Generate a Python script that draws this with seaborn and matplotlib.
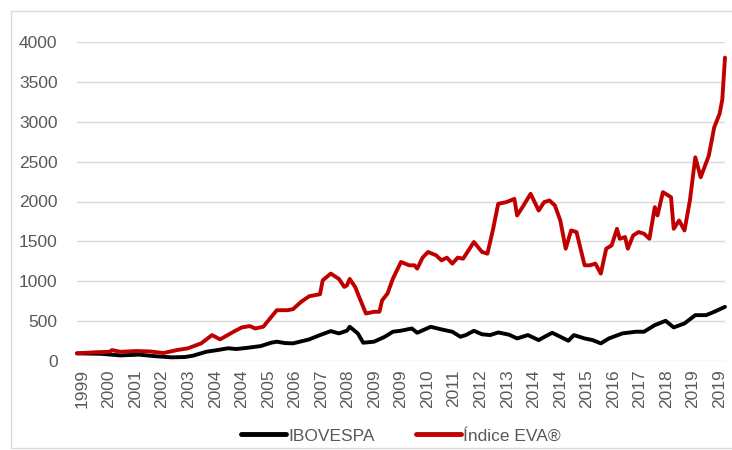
import numpy as np
import pandas as pd
import matplotlib
matplotlib.use("Agg")
import matplotlib.pyplot as plt
from matplotlib.patches import Rectangle
import seaborn as sns

# ---- data (month index since start, value) ----
tick_labels = ["1999", "2000", "2001", "2002", "2003", "2004", "2004", "2005",
               "2006", "2007", "2008", "2009", "2009", "2010", "2011", "2012",
               "2013", "2014", "2014", "2015", "2016", "2017", "2018", "2019", "2019"]

eva_months = [0, 7, 12, 13, 16, 22, 27, 32, 37, 41, 46, 50, 53, 58, 61, 64, 66, 69,
              74, 78, 80, 83, 86, 90, 91, 94, 97, 99, 100, 101, 103, 105, 107, 110,
              112, 113, 115, 117, 120, 123, 125, 126, 128, 130, 133, 135, 137, 139,
              141, 143, 145, 147, 150, 152, 154, 156, 159, 162, 163, 165, 168, 171,
              173, 175, 177, 179, 181, 183, 185, 188, 190, 192, 194, 196, 198, 200,
              201, 203, 204, 206, 208, 210, 212, 214, 215, 217, 220, 221, 223, 225,
              227, 229, 231, 234, 236, 238, 239, 240]
eva_values = [96, 110, 115, 137, 115, 125, 120, 100, 137, 158, 221, 325, 271, 367,
              421, 438, 408, 430, 637, 637, 650, 742, 812, 837, 1012, 1096, 1029, 929,
              950, 1029, 929, 762, 596, 617, 617, 760, 846, 1033, 1242, 1200, 1200,
              1158, 1296, 1367, 1325, 1262, 1296, 1221, 1296, 1283, 1387, 1492, 1367,
              1346, 1637, 1971, 1992, 2033, 1825, 1929, 2096, 1887, 1992, 2013, 1950,
              1762, 1408, 1637, 1617, 1200, 1200, 1221, 1096, 1408, 1450, 1658, 1533,
              1554, 1408, 1575, 1617, 1596, 1533, 1929, 1825, 2117, 2054, 1658, 1762,
              1637, 2013, 2554, 2304, 2575, 2929, 3100, 3280, 3804]

ibov_months = [0, 9, 16, 23, 29, 35, 40, 43, 48, 52, 56, 59, 63, 68, 72, 74, 77, 80,
               86, 90, 94, 97, 100, 101, 104, 106, 110, 114, 117, 120, 124, 126, 131,
               135, 139, 142, 144, 147, 150, 153, 156, 160, 163, 167, 171, 173, 176,
               179, 182, 184, 188, 191, 194, 197, 202, 207, 210, 214, 218, 221, 225,
               229, 233, 236, 240]
ibov_values = [96, 90, 70, 80, 60, 46, 50, 67, 117, 137, 160, 150, 165, 187, 230, 242,
               225, 221, 271, 325, 375, 346, 380, 429, 346, 229, 242, 304, 367, 380,
               408, 354, 429, 396, 367, 304, 325, 379, 335, 325, 358, 330, 283, 325,
               262, 300, 354, 304, 254, 325, 283, 262, 221, 283, 346, 367, 367, 450,
               504, 421, 471, 575, 575, 617, 679]

series_names = ["IBOVESPA", "Índice EVA®"]
series_colors = ["#000000", "#C00000"]

df = pd.concat([
    pd.DataFrame({"mes": ibov_months, "valor": ibov_values, "serie": series_names[0]}),
    pd.DataFrame({"mes": eva_months, "valor": eva_values, "serie": series_names[1]}),
], ignore_index=True)

# ---- plot ----
sns.set_theme(style="white")
plt.rcParams["font.family"] = ["Liberation Sans", "DejaVu Sans"]

fig = plt.figure(figsize=(7.32, 4.5), dpi=100)
fig.patches.append(Rectangle((11 / 732, 2 / 450), 730 / 732, 437 / 450,
                             transform=fig.transFigure, fill=False,
                             edgecolor="#dcdcdc", linewidth=1.0, zorder=0))
ax = fig.add_axes([77 / 732, 1 - 361 / 450, (725 - 77) / 732, (361 - 42) / 450])

sns.lineplot(data=df, x="mes", y="valor", hue="serie", hue_order=series_names,
             palette=dict(zip(series_names, series_colors)), linewidth=2.8,
             ax=ax, legend=True, estimator=None, sort=True)
for ln in ax.lines:
    ln.set_solid_joinstyle("round")
    ln.set_clip_on(False)

ax.set_xlim(0, 240)
ax.set_ylim(0, 4000)
ax.set_yticks(np.arange(0, 4001, 500))
ax.set_yticklabels([str(v) for v in range(0, 4001, 500)])
ax.set_xticks(np.linspace(2, 238, len(tick_labels)))
ax.set_xticklabels(tick_labels, rotation=90)
ax.tick_params(axis="both", length=0, labelsize=12.5, labelcolor="#595959")
ax.tick_params(axis="y", pad=14)
ax.tick_params(axis="x", pad=6)
ax.grid(axis="y", color="#d9d9d9", linewidth=1.0)
ax.grid(axis="x", visible=False)
ax.set_axisbelow(True)
for s in ax.spines.values():
    s.set_visible(False)
ax.set_xlabel("")
ax.set_ylabel("")

handles, labels = ax.get_legend_handles_labels()
for h in handles:
    h.set_linewidth(3.5)
leg = ax.legend(handles, labels, loc="center", bbox_to_anchor=(0.5, -0.235),
                ncol=2, frameon=False, fontsize=12.5, handlelength=2.6,
                handletextpad=0.1, columnspacing=2.4, labelcolor="#595959")

fig.savefig("out.png", dpi=100)
